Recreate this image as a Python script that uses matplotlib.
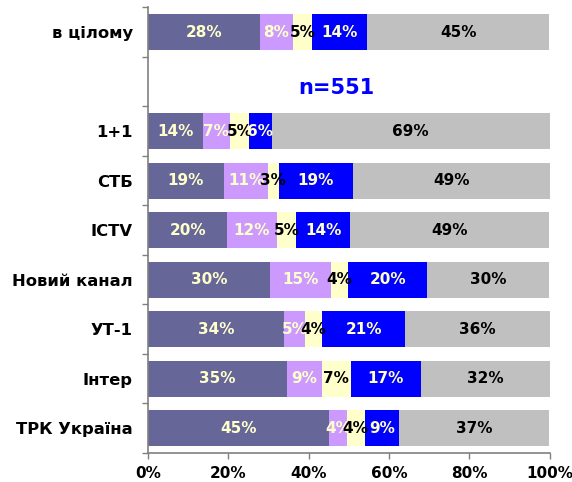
import matplotlib
matplotlib.use("Agg")
import matplotlib.pyplot as plt
import numpy as np

categories = ["в цілому", "", "1+1", "СТБ", "ICTV", "Новий канал", "УТ-1", "Інтер", "ТРК Україна"]

s1 = [27.9, 0, 13.7, 18.9, 19.7, 30.4, 33.9, 34.6, 45.1]
s2 = [8.2, 0, 6.6, 11.0, 12.4, 15.1, 5.2, 8.6, 4.4]
s3 = [4.7, 0, 4.9, 2.6, 4.7, 4.4, 4.2, 7.3, 4.4]
s4 = [13.7, 0, 5.6, 18.6, 13.6, 19.6, 20.7, 17.4, 8.6]
s5 = [45.4, 0, 69.2, 48.9, 49.4, 30.4, 36.0, 32.1, 37.4]

series = [s1, s2, s3, s4, s5]
colors = ["#666699", "#CC99FF", "#FFFFCC", "#0000FF", "#C0C0C0"]
text_colors = ["#FFFFCC", "#FFFFCC", "black", "#FFFFCC", "black"]

xticks = [0, 20, 40, 60, 80, 100]
xticklabels = ["0%", "20%", "40%", "60%", "80%", "100%"]

note = "n=551"

fig = plt.figure(figsize=(5.72, 4.82), dpi=100)
ax = fig.add_axes([148/572, 1-453/482, (549.7-148)/572, (453-7.3)/482])

y = np.arange(len(categories))
left = np.zeros(len(categories))
for vals, c, tc in zip(series, colors, text_colors):
    vals = np.array(vals, dtype=float)
    ax.barh(y, vals, left=left, height=0.73, color=c, edgecolor="none")
    for yi, (l, v) in enumerate(zip(left, vals)):
        if v > 0:
            ax.text(l + v/2, yi, f"{v:.0f}%", ha="center", va="center",
                    color=tc, fontsize=11, fontweight="bold")
    left = left + vals

ax.text(47, 1.12, note, ha="center", va="center", color="#0000FF",
        fontsize=15, fontweight="bold")

ax.set_xlim(0, 100)
ax.set_ylim(len(categories) - 0.5, -0.5)
ax.set_yticks(y)
ax.set_yticklabels(categories, fontsize=11.8, fontweight="bold")
ax.set_yticks(np.arange(-0.5, len(categories)), minor=True)
ax.tick_params(axis="y", which="major", length=0, pad=11)
ax.tick_params(axis="y", which="minor", length=4, color="#808080", width=1)
ax.set_xticks(xticks)
ax.set_xticklabels(xticklabels, fontsize=11, fontweight="bold")
ax.tick_params(axis="x", length=4, color="#808080", width=1, pad=5)

for s in ["top", "right"]:
    ax.spines[s].set_visible(False)
for s in ["left", "bottom"]:
    ax.spines[s].set_color("#808080")
    ax.spines[s].set_linewidth(1.2)

fig.savefig("out.png", dpi=100)
